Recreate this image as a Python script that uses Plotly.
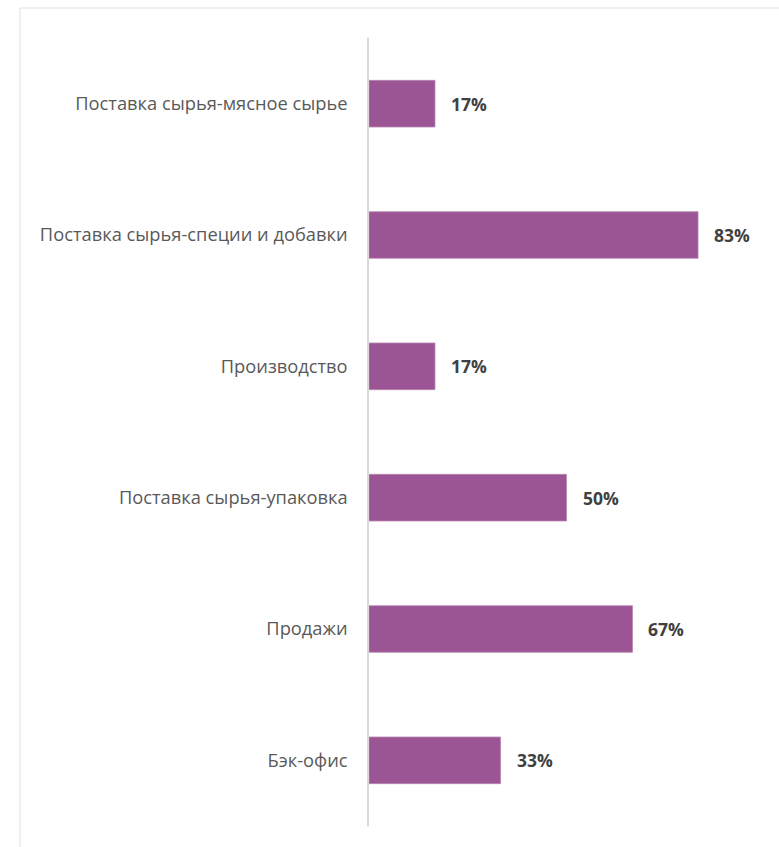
import plotly.graph_objects as go

categories = [
    "Поставка сырья-мясное сырье",
    "Поставка сырья-специи и добавки",
    "Производство",
    "Поставка сырья-упаковка",
    "Продажи",
    "Бэк-офис",
]
values = [16.7, 83.3, 16.7, 50.0, 66.7, 33.3]

BAR = "#9B5594"
W, H = 779, 847
L, R, T, B = 369, 15, 38, 21

fig = go.Figure()
fig.add_trace(go.Bar(
    x=values, y=categories, orientation="h",
    marker=dict(color=BAR, line=dict(color="#B784B1", width=0.8)),
    hoverinfo="skip",
))

for c, v in zip(categories, values):
    fig.add_annotation(
        x=v, y=c, xref="x", yref="y", text=f"<b>{v:.0f}%</b>",
        showarrow=False, xanchor="left", xshift=14,
        font=dict(family="Open Sans", size=17.5, color="#404040"),
    )

pw = W - L - R
ph = H - T - B
fx0 = (20 - L) / pw
fy1 = (H - B - 8) / ph
frame = dict(color="#EFEFEF", width=2)
fig.add_shape(type="line", xref="paper", yref="paper", layer="below",
              x0=fx0, x1=(W + 10 - L) / pw, y0=fy1, y1=fy1, line=frame)
fig.add_shape(type="line", xref="paper", yref="paper", layer="below",
              x0=fx0, x1=fx0, y0=fy1, y1=-(B + 10) / ph, line=frame)

fig.update_layout(
    width=W, height=H,
    margin=dict(l=L, r=R, t=T, b=B, pad=0),
    paper_bgcolor="white", plot_bgcolor="white",
    showlegend=False,
    bargap=0.645,
    xaxis=dict(range=[0, 100], visible=False, fixedrange=True),
    yaxis=dict(
        categoryorder="array", categoryarray=categories, autorange="reversed",
        showline=True, linecolor="#D9D9D9", linewidth=1.5,
        showgrid=False, zeroline=False, ticks="",
        ticklabelstandoff=16,
        tickfont=dict(family="Open Sans", size=18.3, color="#595959"),
    ),
)

fig.write_html("out.html")
